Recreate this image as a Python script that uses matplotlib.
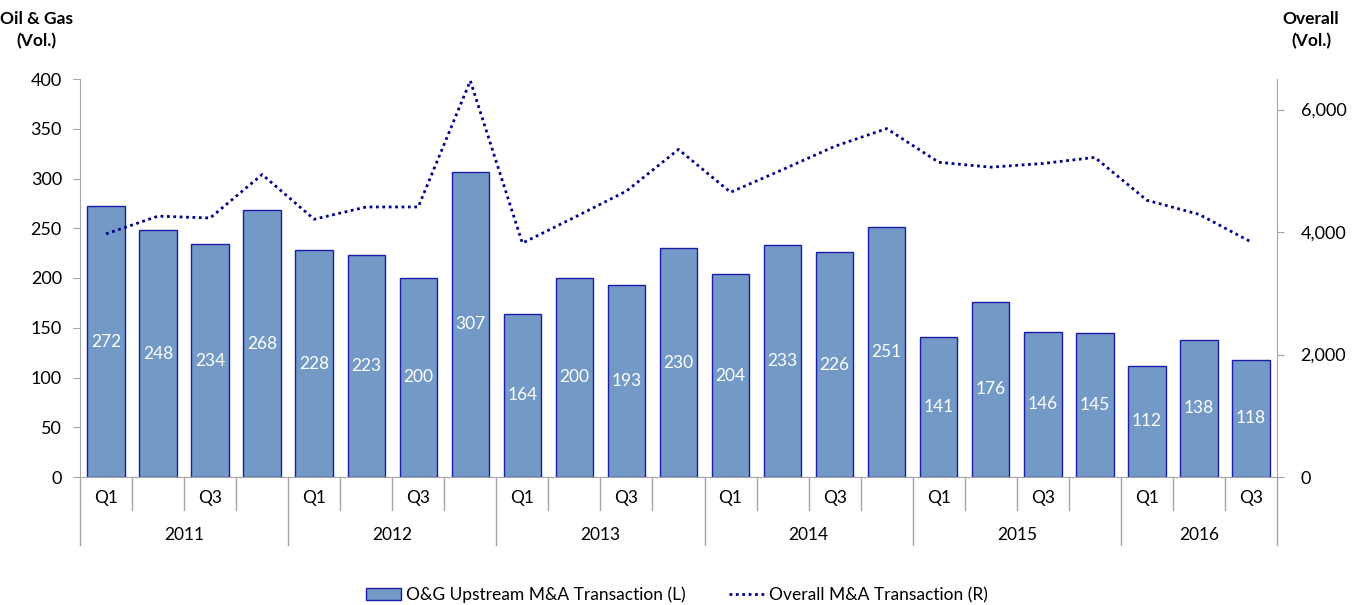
import numpy as np
import matplotlib.pyplot as plt

plt.rcParams['font.family'] = ['Lato', 'DejaVu Sans']

# quarterly data, 2011 Q1 .. 2016 Q3
years = ['2011', '2012', '2013', '2014', '2015', '2016']
quarters = ['Q1', '', 'Q3', '']
og_deals = [272, 248, 234, 268, 228, 223, 200, 307, 164, 200, 193, 230,
            204, 233, 226, 251, 141, 176, 146, 145, 112, 138, 118]
overall_deals = [3970, 4260, 4230, 4940, 4210, 4410, 4410, 6470, 3820, 4240,
                 4670, 5350, 4650, 5020, 5400, 5690, 5140, 5060, 5120, 5220,
                 4520, 4290, 3840]

n = len(og_deals)
x = np.arange(n)

fig = plt.figure(figsize=(13.54, 6.05), dpi=100)
ax = fig.add_axes([80 / 1354, 128 / 605, 1197 / 1354, 398 / 605])
ax2 = ax.twinx()

bars = ax.bar(x, og_deals, width=0.72, color='#7399c6', edgecolor='#1c1ca8',
              linewidth=1.0, label='O&G Upstream M&A Transaction (L)', zorder=2)
for xi, v in zip(x, og_deals):
    ax.text(xi, v / 2, str(v), ha='center', va='center', color='white',
            fontsize=12.5)

ax2.plot(x, overall_deals, color='#00008b', linestyle=(0, (1, 1.3)),
         linewidth=2.0, label='Overall M&A Transaction (R)', zorder=3)

ax.set_xlim(-0.5, n - 0.5)
ax.set_ylim(0, 400)
ax2.set_ylim(0, 6500)
ax.set_yticks(range(0, 401, 50))
ax2.set_yticks([0, 2000, 4000, 6000])
ax2.set_yticklabels(['0', '2,000', '4,000', '6,000'])

gray = '#a6a6a6'
for a in (ax, ax2):
    a.spines['top'].set_visible(False)
    for s in ('left', 'right', 'bottom'):
        a.spines[s].set_color(gray)
    a.tick_params(axis='y', colors=gray, labelcolor='black', labelsize=13,
                  length=5, direction='out')
ax.spines['right'].set_visible(False)
ax2.spines['left'].set_visible(False)
ax2.spines['bottom'].set_visible(False)
ax.set_xticks([])
ax.tick_params(axis='y', pad=8)
ax2.tick_params(axis='y', pad=12)

# two-level category axis
trans = ax.get_xaxis_transform()
for i in range(n + 1):
    is_year = (i % 4 == 0) or i == n
    ybot = -0.17 if is_year else -0.083
    ax.plot([i - 0.5, i - 0.5], [0, ybot], transform=trans, color=gray,
            linewidth=1, clip_on=False)
for i in range(n):
    q = quarters[i % 4]
    if q:
        ax.text(i, -0.052, q, transform=trans, ha='center', va='center',
                fontsize=12.5)
for k, yr in enumerate(years):
    start = k * 4
    end = min(start + 4, n)
    ax.text((start + end - 1) / 2, -0.145, yr, transform=trans, ha='center',
            va='center', fontsize=12.5)

fig.text(36 / 1354, 1 - 30 / 605, 'Oil & Gas\n(Vol.)', ha='center',
         va='center', fontsize=12.5, fontweight='bold', linespacing=1.5)
fig.text(1311 / 1354, 1 - 30 / 605, 'Overall\n(Vol.)', ha='center',
         va='center', fontsize=12.5, fontweight='bold', linespacing=1.5)

h1, l1 = ax.get_legend_handles_labels()
h2, l2 = ax2.get_legend_handles_labels()
fig.legend(h1 + h2, l1 + l2, loc='center', bbox_to_anchor=(0.5, 1 - 595 / 605),
           ncol=2, frameon=False, fontsize=12.5, handlelength=2.0,
           handletextpad=0.3, columnspacing=2.5)

fig.savefig('out.png', dpi=100)
